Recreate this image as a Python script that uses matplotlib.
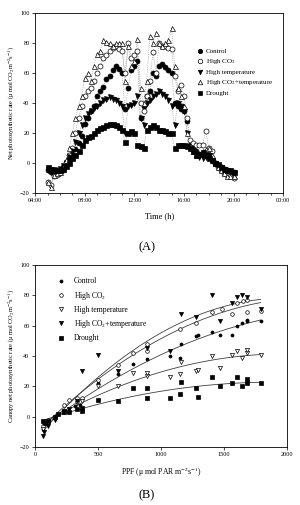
import matplotlib
matplotlib.use("Agg")
import matplotlib.pyplot as plt
import numpy as np
from matplotlib.ticker import MultipleLocator, FuncFormatter

plt.rcParams["font.family"] = ["Liberation Serif", "DejaVu Serif"]
plt.rcParams["mathtext.fontset"] = "stix"

# ---- (A) diurnal course, 15-min readings 05:00-20:00 (hours) ----
hours = [5.0, 5.25, 5.5, 5.75, 6.0, 6.25, 6.5, 6.75, 7.0, 7.25, 7.5, 7.75,
         8.0, 8.25, 8.5, 8.75, 9.0, 9.25, 9.5, 9.75, 10.0, 10.25, 10.5, 10.75,
         11.0, 11.25, 11.5, 11.75, 12.0, 12.25, 12.5, 12.75, 13.0, 13.25, 13.5, 13.75,
         14.0, 14.25, 14.5, 14.75, 15.0, 15.25, 15.5, 15.75, 16.0, 16.25, 16.5, 16.75,
         17.0, 17.25, 17.5, 17.75, 18.0, 18.25, 18.5, 18.75, 19.0, 19.25, 19.5, 19.75, 20.0]
control_a = [-5, -6, -5, -6, -5, -3, 0, 3, 6, 9, 13, 18, 26, 30, 35, 38, 45, 48, 51, 56,
             58, 62, 65, 63, 60, 36, 50, 62, 65, 68, 30, 38, 45, 48, 60, 58, 65, 66, 64, 62,
             60, 40, 38, 36, 35, 28, 12, 10, 8, 6, 5, 6, 5, 2, 0, -2, -3, -4, -5, -6, -6]
hico2_a = [-13, -15, -9, -8, -7, -5, 0, 5, 10, 20, 30, 38, 45, 48, 50, 55, 60, 65, 70, 72,
           75, 77, 78, 76, 75, 60, 80, 70, 72, 75, 40, 35, 45, 55, 74, 60, 80, 78, 78, 77,
           76, 58, 48, 52, 45, 30, 15, 13, 12, 12, 12, 21, 10, 8, 0, -3, -5, -7, -8, -9, -10]
hitemp_a = [-5, -6, -5, -5, -4, -2, 0, 4, 8, 14, 20, 25, 30, 33, 35, 37, 38, 40, 42, 43,
            44, 43, 42, 40, 38, 20, 38, 39, 40, 45, 30, 25, 40, 42, 45, 46, 48, 46, 45, 42,
            38, 25, 40, 38, 35, 20, 10, 8, 5, 4, 3, 4, 5, 2, 0, -2, -3, -4, -5, -6, -7]
hico2t_a = [-13, -16, -8, -7, -6, -3, 2, 10, 20, 30, 38, 45, 57, 60, 55, 65, 73, 75, 82, 81,
            80, 78, 80, 80, 80, 55, 78, 65, 68, 83, 50, 40, 55, 85, 80, 87, 80, 78, 80, 82,
            90, 65, 50, 45, 38, 20, 12, 8, 5, 6, 8, 9, 10, 5, 0, -3, -5, -7, -9, -9, -9]
drought_a = [-3, -4, -5, -5, -5, -4, -2, 0, 3, 5, 8, 12, 15, 17, 18, 20, 22, 23, 24, 25,
             26, 26, 25, 24, 22, 14, 20, 21, 20, 12, 11, 10, 22, 24, 25, 24, 22, 22, 21, 20,
             20, 10, 12, 12, 12, 11, 10, 8, 5, 6, 7, 5, 3, 2, 0, -1, -3, -4, -5, -5, -6]

# ---- (B) light response ----
control_ppf = [60, 70, 100, 150, 180, 230, 270, 320, 360, 500, 660, 780, 890, 1070, 1150,
               1160, 1280, 1290, 1400, 1470, 1560, 1600, 1640, 1680, 1680, 1790]
control_b = [-8, -5, -4, 0, 2, 3, 4, 7, 8, 22, 28, 35, 38, 40, 39,
             48, 53, 54, 56, 54, 54, 60, 62, 63, 64, 63]
hico2_ppf = [60, 80, 100, 160, 230, 270, 330, 370, 500, 660, 780, 890, 890, 1150, 1280,
             1400, 1480, 1560, 1600, 1650, 1680, 1680, 1790]
hico2_b = [-6, -3, -2, 0, 8, 11, 12, 12, 24, 34, 42, 43, 48, 58, 62,
           69, 71, 68, 75, 76, 69, 77, 70]
hitemp_ppf = [60, 100, 160, 230, 330, 370, 500, 660, 780, 890, 890, 1070, 1150, 1160, 1280,
              1290, 1400, 1470, 1560, 1600, 1640, 1680, 1680, 1790]
hitemp_b = [-8, -4, -1, 3, 9, 10, 20, 20, 29, 27, 29, 26, 28, 36, 30,
            31, 40, 32, 41, 43, 39, 42, 44, 41]
hico2t_ppf = [60, 70, 100, 160, 230, 270, 330, 370, 500, 660, 890, 1070, 1160, 1280,
              1400, 1470, 1560, 1600, 1640, 1680, 1790]
hico2t_b = [-13, -10, -6, -2, 4, 5, 10, 30, 41, 30, 45, 43, 68, 66,
            80, 63, 75, 79, 80, 79, 71]
drought_ppf = [60, 80, 100, 160, 180, 230, 270, 330, 370, 370, 500, 660, 780, 890, 890,
               1070, 1150, 1160, 1280, 1290, 1400, 1470, 1560, 1600, 1640, 1680, 1680, 1790]
drought_b = [-3, -4, -3, 0, 2, 3, 3, 5, 4, 6, 11, 10, 19, 12, 19,
             12, 15, 23, 19, 13, 26, 20, 22, 26, 20, 22, 25, 22]

labels = ["Control", "High CO$_2$", "High temperature", "High CO$_2$+temperature", "Drought"]

fig = plt.figure(figsize=(3.0, 5.05), dpi=100)

# Panel A
ax = fig.add_axes([0.117, 0.618, 0.827, 0.356])
series_a = [control_a, hico2_a, hitemp_a, hico2t_a, drought_a]
styles_a = [("o", "black"), ("o", "white"), ("v", "black"), ("^", "white"), ("s", "black")]
for vals, (mk, fc), lab in zip(series_a, styles_a, labels):
    ax.plot(hours, vals, linestyle=":", color="0.55", linewidth=0.5, zorder=1)
    ax.plot(hours, vals, linestyle="none", marker=mk, markersize=3.6,
            markerfacecolor=fc, markeredgecolor="black", markeredgewidth=0.5,
            label=lab, zorder=2)
ax.set_xlim(4, 24)
ax.set_ylim(-20, 100)
ax.xaxis.set_major_locator(MultipleLocator(4))
ax.xaxis.set_minor_locator(MultipleLocator(1))
ax.xaxis.set_major_formatter(FuncFormatter(lambda v, p: f"{int(v) % 24:02d}:00"))
ax.yaxis.set_major_locator(MultipleLocator(20))
ax.tick_params(labelsize=4.5, length=2, width=0.5, pad=2)
ax.tick_params(which="minor", length=1.2, width=0.5)
ax.set_xlabel("Time (h)", fontsize=6, labelpad=6)
ax.set_ylabel("Net photosynthetic rate (μ mol CO$_2$m$^{-2}$s$^{-1}$)", fontsize=4.6, labelpad=2)
for s in ax.spines.values():
    s.set_linewidth(0.6)
ax.legend(loc="upper right", bbox_to_anchor=(0.985, 0.84), frameon=False, fontsize=5,
          handletextpad=0.3, labelspacing=0.45, handlelength=1.2, markerscale=0.9)
fig.text(0.49, 0.511, "(A)", ha="center", va="center", fontsize=9)

# Panel B
bx = fig.add_axes([0.117, 0.115, 0.84, 0.360])
data_b = [(control_ppf, control_b), (hico2_ppf, hico2_b), (hitemp_ppf, hitemp_b),
          (hico2t_ppf, hico2t_b), (drought_ppf, drought_b)]
styles_b = [("o", "black", 2.2), ("o", "white", 2.6), ("v", "white", 3.0),
            ("v", "black", 3.0), ("s", "black", 2.8)]
for (xs, ys), (mk, fc, ms), lab in zip(data_b, styles_b, labels):
    bx.plot(xs, ys, linestyle="none", marker=mk, markersize=ms, markerfacecolor=fc,
            markeredgecolor="black", markeredgewidth=0.5, label=lab, zorder=2)
    coef = np.polyfit(xs, ys, 2)
    xf = np.linspace(min(xs), max(xs), 200)
    bx.plot(xf, np.polyval(coef, xf), color="0.25", linewidth=0.6, zorder=1)
bx.set_xlim(0, 2000)
bx.set_ylim(-20, 100)
bx.xaxis.set_major_locator(MultipleLocator(500))
bx.yaxis.set_major_locator(MultipleLocator(20))
bx.tick_params(labelsize=4.5, length=2, width=0.5, pad=2)
bx.set_xlabel("PPF (μ mol PAR m$^{-2}$s$^{-1}$)", fontsize=5.5, labelpad=6)
bx.set_ylabel("Canopy net photosynthetic rate (μ mol CO$_2$m$^{-2}$s$^{-1}$)", fontsize=4.6, labelpad=2)
for s in bx.spines.values():
    s.set_linewidth(0.6)
bx.legend(loc="upper left", bbox_to_anchor=(0.06, 0.97), frameon=False, fontsize=5.5,
          handletextpad=1.2, labelspacing=0.55, handlelength=1.0)
fig.text(0.49, 0.02, "(B)", ha="center", va="center", fontsize=9)

plt.savefig("out.png", dpi=100)
plt.close()
